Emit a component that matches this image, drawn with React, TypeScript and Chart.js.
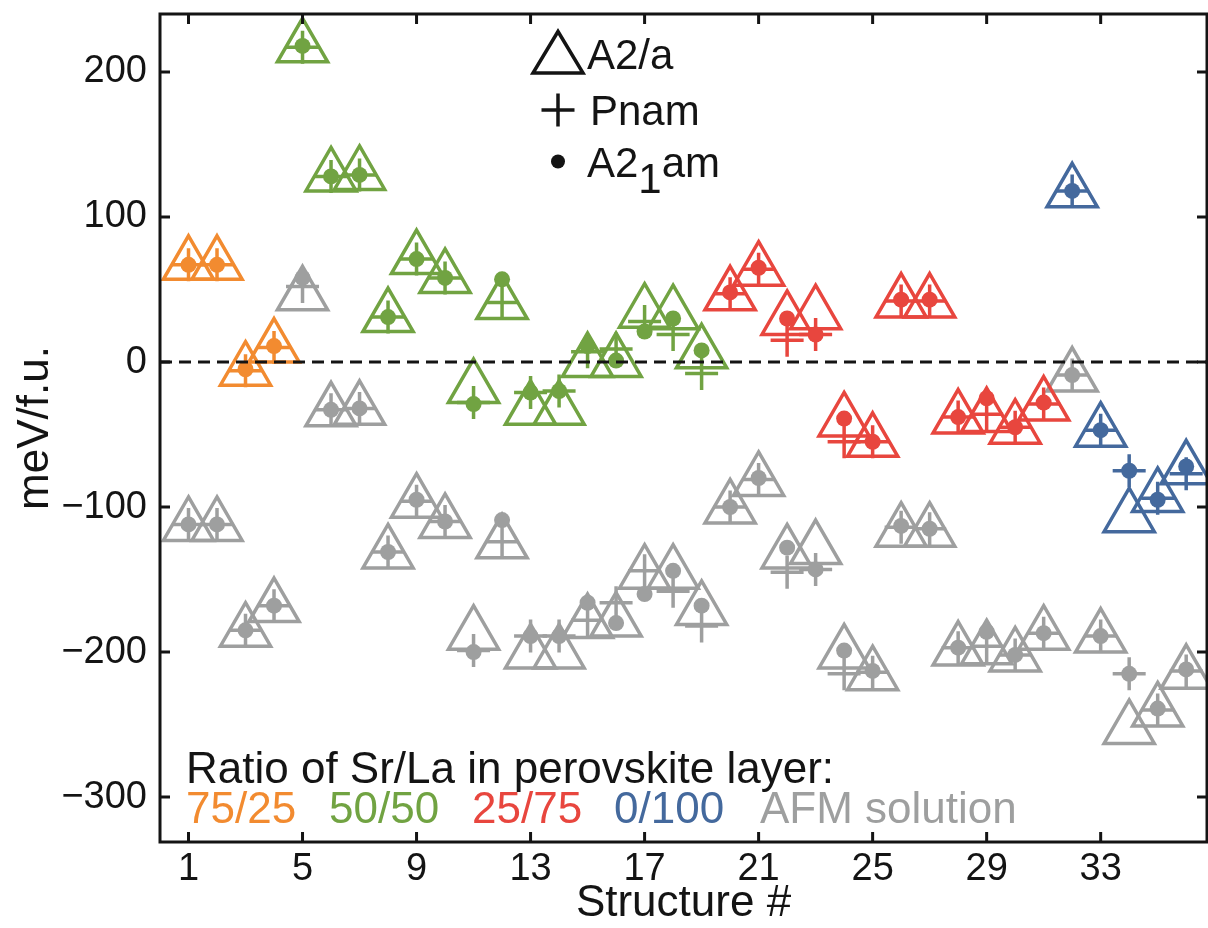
import React, { useEffect, useRef } from 'react';
import { Chart, registerables } from 'chart.js';

Chart.register(...registerables);

// ---------- data ----------
const structures = [1, 2, 3, 4, 5, 6, 7, 8, 9, 10, 11, 12, 13, 14, 15, 16, 17, 18, 19, 20, 21, 22, 23, 24, 25, 26, 27, 28, 29, 30, 31, 32, 33, 34, 35, 36];
// index into ratioLabels for each structure
const ratioGroup = [0, 0, 0, 0, 1, 1, 1, 1, 1, 1, 1, 1, 1, 1, 1, 1, 1, 1, 1, 2, 2, 2, 2, 2, 2, 2, 2, 2, 2, 2, 2, 3, 3, 3, 3, 3];
const ratioLabels = ['75/25', '50/50', '25/75', '0/100'];
const afmLabel = 'AFM solution';

const fmA2a = [67, 67, -6, 10, 217, 128, 129, 31, 71, 58, -18, 40, -33, -33, 0, 0, 34, 33, 6, 46, 63, 29, 33, -41, -55, 41, 41, -39, -38, -46, -30, 117, -48, -107, -93, -74];
const fmPnam = [67, 67, -6, 10, 217, 128, 129, 31, 71, 58, -28, 41, -21, -20, 7, 9, 28, 19, -8, 47, 64, 15, 19, -55, -55, 42, 42, -38, -36, -45, -29, 118, -47, -75, -94, -77];
const fmA21am = [67, 67, -5, 11, 218, 128, 129, 31, 71, 58, -29, 57, -21, -20, 11, 1, 21, 30, 8, 48, 65, 30, 19, -39, -55, 43, 43, -38, -25, -45, -28, 118, -47, -75, -95, -72];
const afmA2a = [-113, -113, -186, -169, 46, -34, -33, -132, -97, -111, -188, -125, -201, -201, -180, -179, -146, -146, -171, -101, -82, -132, -129, -201, -216, -117, -117, -199, -198, -203, -188, -10, -190, -253, -241, -215];
const afmPnam = [-112, -112, -185, -168, 52, -33, -32, -131, -96, -110, -199, -124, -189, -189, -178, -166, -144, -158, -182, -100, -81, -145, -143, -215, -214, -114, -115, -197, -196, -202, -187, -9, -189, -215, -240, -213];
const afmA21am = [-112, -112, -185, -168, 58, -33, -32, -131, -95, -110, -200, -109, -189, -189, -166, -180, -160, -144, -168, -100, -80, -128, -143, -199, -213, -113, -115, -197, -186, -202, -187, -9, -189, -215, -239, -212];

const xTicks = [1, 5, 9, 13, 17, 21, 25, 29, 33];
const yTicks = [-300, -200, -100, 0, 100, 200];
const zeroLineX = [0, 37];

// ---------- styles ----------
const ratioColors = ['#F28B30', '#71A342', '#E8463E', '#44699D'];
const afmColor = '#9E9F9F';
const INK = '#141414';
const FONT = "'Liberation Sans', Arial, Helvetica, sans-serif";

const fmColors = ratioGroup.map((g) => ratioColors[g]);
const afmColors = structures.map(() => afmColor);

function pts(vals: number[]) {
  return structures.map((x, i) => ({ x, y: vals[i] }));
}

function noPad(s: any) {
  s.paddingTop = 0;
  s.paddingBottom = 0;
  s.paddingLeft = 0;
  s.paddingRight = 0;
}

const overlayPlugin = {
  id: 'overlay',
  afterDraw(chart: any) {
    const { ctx, chartArea } = chart;
    const { left, right, top, bottom } = chartArea;
    const xs = chart.scales.x;
    const ys = chart.scales.y;
    ctx.save();
    // frame
    ctx.strokeStyle = INK;
    ctx.lineWidth = 3;
    ctx.strokeRect(left, top, right - left, bottom - top);
    // inward ticks
    ctx.beginPath();
    const tl = 10;
    xTicks.forEach((v) => {
      const px = xs.getPixelForValue(v);
      ctx.moveTo(px, bottom);
      ctx.lineTo(px, bottom - tl);
      ctx.moveTo(px, top);
      ctx.lineTo(px, top + tl);
    });
    yTicks.forEach((v) => {
      const py = ys.getPixelForValue(v);
      ctx.moveTo(left, py);
      ctx.lineTo(left + tl, py);
      ctx.moveTo(right, py);
      ctx.lineTo(right - tl, py);
    });
    ctx.stroke();

    // marker legend
    const lx = 558;
    ctx.lineWidth = 3.5;
    ctx.strokeStyle = INK;
    ctx.fillStyle = INK;
    ctx.beginPath();
    ctx.moveTo(lx, 31.5);
    ctx.lineTo(lx - 25, 73);
    ctx.lineTo(lx + 25, 73);
    ctx.closePath();
    ctx.stroke();
    ctx.beginPath();
    ctx.moveTo(lx - 16.5, 110);
    ctx.lineTo(lx + 16.5, 110);
    ctx.moveTo(lx, 93.5);
    ctx.lineTo(lx, 126.5);
    ctx.stroke();
    ctx.beginPath();
    ctx.arc(lx, 161.5, 7, 0, Math.PI * 2);
    ctx.fill();

    ctx.font = `42px ${FONT}`;
    ctx.textBaseline = 'alphabetic';
    ctx.textAlign = 'left';
    ctx.fillText('A2/a', 587, 68.5);
    ctx.fillText('Pnam', 590, 125);
    ctx.fillText('A2', 587, 176.5);
    const w1 = ctx.measureText('A2').width;
    ctx.fillText('1', 587 + w1, 193);
    const w2 = ctx.measureText('1').width;
    ctx.fillText('am', 587 + w1 + w2, 176.5);

    // ratio annotation
    ctx.font = `44px ${FONT}`;
    ctx.fillStyle = INK;
    ctx.fillText('Ratio of Sr/La in perovskite layer:', 186, 783);
    const rowX = [186, 329, 472, 614];
    ratioLabels.forEach((lab, i) => {
      ctx.fillStyle = ratioColors[i];
      ctx.fillText(lab, rowX[i], 823);
    });
    ctx.fillStyle = afmColor;
    ctx.fillText(afmLabel, 760, 823);
    ctx.restore();
  },
};

export default function App() {
  const canvasRef = useRef<HTMLCanvasElement | null>(null);

  useEffect(() => {
    const canvas = canvasRef.current;
    if (!canvas) return;
    const scatterBase = {
      type: 'scatter' as const,
      showLine: false,
      clip: false as any,
      pointBorderWidth: 3.5,
      pointHoverRadius: 0,
    };
    const chart = new Chart(canvas, {
      type: 'scatter',
      data: {
        datasets: [
          {
            type: 'line',
            label: 'zero',
            data: zeroLineX.map((x) => ({ x, y: 0 })),
            borderColor: INK,
            borderWidth: 3,
            borderDash: [12, 7],
            pointRadius: 0,
            fill: false,
          } as any,
          {
            ...scatterBase,
            label: 'A21am FM',
            data: pts(fmA21am),
            pointStyle: 'circle',
            pointRadius: 8,
            pointBorderWidth: 0,
            pointBackgroundColor: fmColors,
            pointBorderColor: fmColors,
          },
          {
            ...scatterBase,
            label: 'A21am AFM',
            data: pts(afmA21am),
            pointStyle: 'circle',
            pointRadius: 8,
            pointBorderWidth: 0,
            pointBackgroundColor: afmColors,
            pointBorderColor: afmColors,
          },
          {
            ...scatterBase,
            label: 'Pnam FM',
            data: pts(fmPnam),
            pointStyle: 'cross',
            pointRadius: 16.5,
            pointBorderColor: fmColors,
            pointBackgroundColor: fmColors,
          },
          {
            ...scatterBase,
            label: 'Pnam AFM',
            data: pts(afmPnam),
            pointStyle: 'cross',
            pointRadius: 16.5,
            pointBorderColor: afmColors,
            pointBackgroundColor: afmColors,
          },
          {
            ...scatterBase,
            label: 'A2/a FM',
            data: pts(fmA2a),
            pointStyle: 'triangle',
            pointRadius: 29,
            pointBorderColor: fmColors,
            pointBackgroundColor: 'rgba(0,0,0,0)',
          },
          {
            ...scatterBase,
            label: 'A2/a AFM',
            data: pts(afmA2a),
            pointStyle: 'triangle',
            pointRadius: 29,
            pointBorderColor: afmColors,
            pointBackgroundColor: 'rgba(0,0,0,0)',
          },
        ],
      },
      options: {
        animation: false,
        responsive: false,
        events: [],
        layout: { autoPadding: false, padding: { top: 14, right: 1, left: 0, bottom: 0 } },
        plugins: { legend: { display: false }, tooltip: { enabled: false } },
        scales: {
          x: {
            type: 'linear',
            min: 0,
            max: 36.73,
            grid: { display: false, drawTicks: false },
            border: { display: false },
            afterBuildTicks: (s: any) => {
              s.ticks = xTicks.map((v) => ({ value: v }));
            },
            afterFit: (s: any) => {
              s.height = 86;
              noPad(s);
            },
            ticks: {
              font: { family: FONT, size: 38 },
              color: INK,
              padding: 5,
              maxRotation: 0,
              autoSkip: false,
              callback: (v: any) => String(v),
            },
            title: {
              display: true,
              text: 'Structure #',
              color: INK,
              font: { family: FONT, size: 44, lineHeight: 1 },
              padding: { top: 0, bottom: 2 },
            },
          },
          y: {
            type: 'linear',
            min: -331,
            max: 240,
            grid: { display: false, drawTicks: false },
            border: { display: false },
            afterBuildTicks: (s: any) => {
              s.ticks = yTicks.map((v) => ({ value: v }));
            },
            afterFit: (s: any) => {
              s.width = 160;
              noPad(s);
            },
            ticks: {
              font: { family: FONT, size: 38 },
              color: INK,
              padding: 13,
              autoSkip: false,
              callback: (v: any) => (v < 0 ? '\u2212' + Math.abs(v) : String(v)),
            },
            title: {
              display: true,
              text: 'meV/f.u.',
              color: INK,
              font: { family: FONT, size: 44, lineHeight: 1 },
              padding: { top: 14, bottom: 0 },
            },
          },
        },
      } as any,
      plugins: [overlayPlugin],
    });
    return () => chart.destroy();
  }, []);

  return (
    <div style={{ position: 'fixed', left: 0, top: 0, width: 1208, height: 928, background: '#fff' }}>
      <canvas ref={canvasRef} width={1208} height={928} style={{ width: 1208, height: 928, display: 'block' }} />
    </div>
  );
}
